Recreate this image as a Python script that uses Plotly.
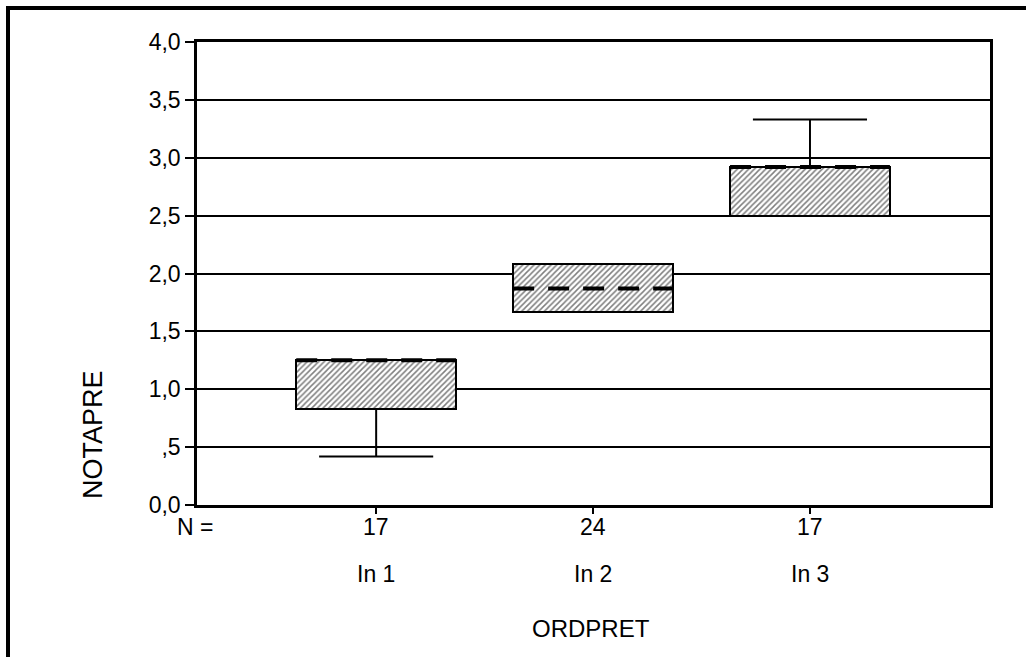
import plotly.graph_objects as go

# ---- data ----
categories = ["In 1", "In 2", "In 3"]
n_counts = [17, 24, 17]
q1 = [0.83, 1.67, 2.50]
median = [1.25, 1.87, 2.92]
q3 = [1.25, 2.08, 2.92]
lower_whisker = [0.42, 1.67, 2.50]
upper_whisker = [1.25, 2.08, 3.33]
y_tickvals = [0.0, 0.5, 1.0, 1.5, 2.0, 2.5, 3.0, 3.5, 4.0]
y_ticktext = ["0,0", ",5", "1,0", "1,5", "2,0", "2,5", "3,0", "3,5", "4,0"]
x_title = "ORDPRET"
y_title = "NOTAPRE"

# ---- layout constants ----
W, H = 1026, 657
L, R, T, B = 197, 990, 42, 505
box_w = 0.737
cap_half = 0.263
FONT = "Liberation Sans, Arial, sans-serif"

xs = list(range(len(categories)))
fig = go.Figure()

# boxes (hatched) as floating bars
fig.add_trace(go.Bar(
    x=xs, base=q1, y=[b - a for a, b in zip(q1, q3)], width=box_w,
    marker=dict(color="white", line=dict(color="black", width=2),
                pattern=dict(shape="/", fgcolor="black", bgcolor="white", size=4, solidity=0.38)),
    hoverinfo="skip", showlegend=False))

# whiskers
wx, wy = [], []
for i in xs:
    if lower_whisker[i] < q1[i]:
        wx += [i, i, None, i - cap_half, i + cap_half, None]
        wy += [q1[i], lower_whisker[i], None, lower_whisker[i], lower_whisker[i], None]
    if upper_whisker[i] > q3[i]:
        wx += [i, i, None, i - cap_half, i + cap_half, None]
        wy += [q3[i], upper_whisker[i], None, upper_whisker[i], upper_whisker[i], None]
fig.add_trace(go.Scatter(x=wx, y=wy, mode="lines", line=dict(color="black", width=2),
                         hoverinfo="skip", showlegend=False))

# medians (dashed)
for i in xs:
    fig.add_trace(go.Scatter(x=[i - box_w / 2, i + box_w / 2], y=[median[i], median[i]],
                             mode="lines", line=dict(color="black", width=4, dash="21px,14px"),
                             hoverinfo="skip", showlegend=False))

px2x = lambda p: (p - L) / (R - L)
px2y = lambda p: (B - p) / (B - T)

def txt(text, x, y, xref, size, angle=0):
    return dict(text=text, x=x, y=y, xref=xref, yref="paper", showarrow=False,
                xanchor="center", yanchor="middle", textangle=angle,
                font=dict(family=FONT, size=size, color="black"))

ann = [txt("N =", px2x(195), px2y(527), "paper", 23)]
for i in xs:
    ann.append(txt(str(n_counts[i]), i, px2y(527), "x", 23))
    ann.append(txt(categories[i], i, px2y(574), "x", 23))
ann.append(txt(x_title, px2x(591), px2y(628), "paper", 24))
ann.append(txt(y_title, px2x(93), px2y(435), "paper", 27, angle=-90))

# outer frame (top and left borders)
shapes = [dict(type="path", xref="paper", yref="paper",
               path=f"M {px2x(8)},{px2y(H + 5)} L {px2x(8)},{px2y(8)} L {px2x(W + 5)},{px2y(8)}",
               line=dict(color="black", width=4))]

fig.update_layout(
    width=W, height=H,
    margin=dict(l=L, r=W - R, t=T, b=H - B, autoexpand=False),
    paper_bgcolor="white", plot_bgcolor="white",
    showlegend=False, annotations=ann, shapes=shapes,
    xaxis=dict(range=[-0.826, 2.83], tickvals=xs, ticktext=["", "", ""],
               ticks="outside", ticklen=6, tickwidth=2, tickcolor="black",
               showgrid=False, zeroline=False, showline=True, linecolor="black",
               linewidth=2.5, mirror=True),
    yaxis=dict(range=[0, 4], tickvals=y_tickvals, ticktext=y_ticktext,
               ticks="outside", ticklen=9, tickwidth=2, tickcolor="black",
               tickfont=dict(family=FONT, size=23, color="black"),
               showgrid=True, gridcolor="black", gridwidth=1.5, zeroline=False,
               showline=True, linecolor="black", linewidth=2.5, mirror=True),
    bargap=0,
)

fig.write_html("out.html", config={"displayModeBar": False},
               post_script="document.body.style.margin='0px';")
